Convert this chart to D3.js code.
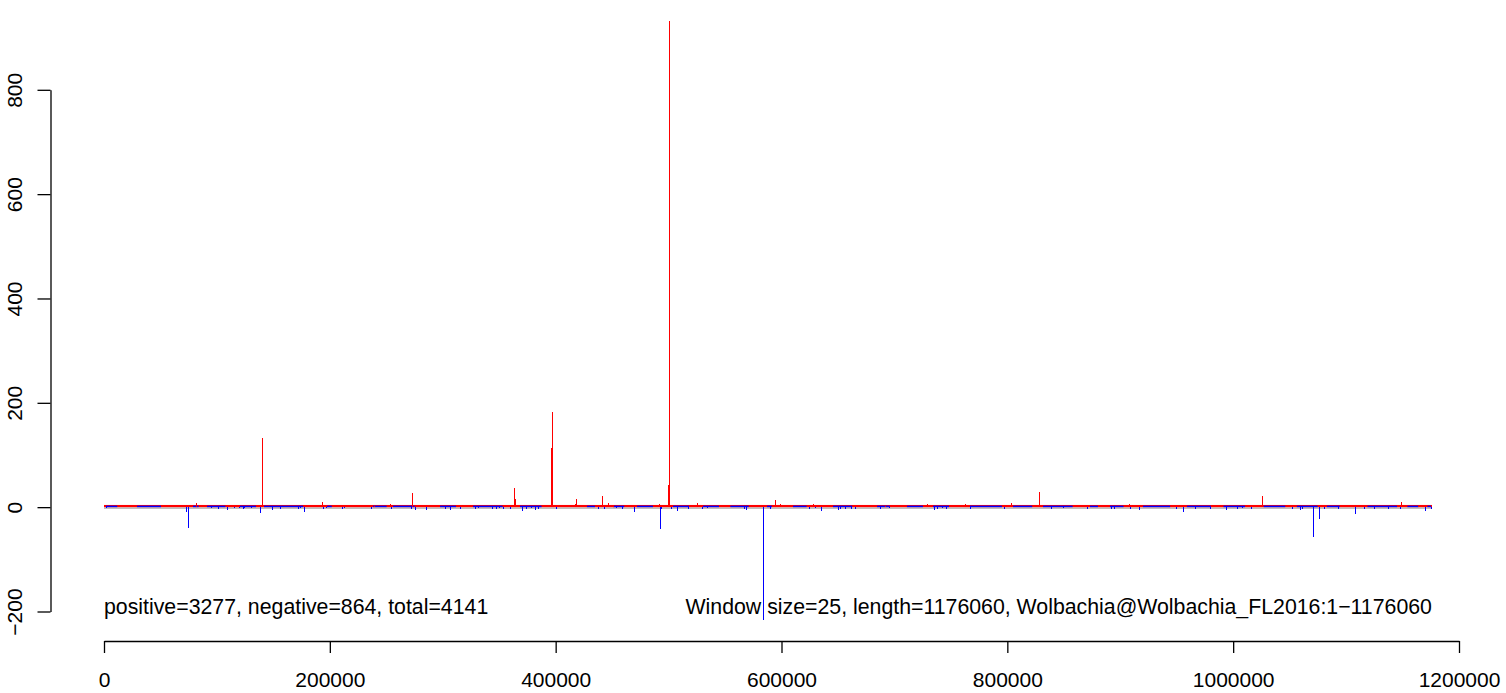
<!DOCTYPE html>
<html>
<head>
<meta charset="utf-8">
<script src="https://cdn.jsdelivr.net/npm/d3@7"></script>
<style>
  body { margin: 0; background: #fff; }
  text { font-family: "Liberation Sans", Arial, Helvetica, sans-serif; }
</style>
</head>
<body>
<svg id="plot" width="1506" height="693"></svg>
<script>
// windows with more reads on + strand (start position, count)
var posStart = [71500, 75000, 81200, 88800, 140200, 193300, 205700, 239100, 253500, 273000,
    276300, 288100, 320000, 363100, 364200, 395900, 396700, 411800, 417100, 418300,
    420000, 441300, 446600, 451000, 491800, 499500, 500400, 525400, 548200, 577700,
    594500, 598000, 598900, 602800, 628200, 668900, 677700, 691900, 704300, 707000,
    729100, 762800, 803500, 828300, 872600, 883200, 908000, 917700, 986800, 1024000,
    1025300, 1054100, 1112600, 1148900, 1163900];
var posCount = [3, 3, 8, 4, 132, 10, 4, 3, 6, 27,
    4, 3, 5, 36, 16, 113, 183, 3, 7, 16,
    3, 22, 8, 4, 6, 43, 932, 8, 3, 4,
    14, 3, 6, 3, 6, 4, 3, 3, 4, 3,
    6, 6, 8, 29, 3, 4, 6, 3, 3, 4,
    22, 3, 4, 10, 3];

// windows with more reads on - strand
var negStart = [1800, 72900, 74700, 94500, 101200, 109200, 115400, 119300, 122800, 124000,
    129900, 138400, 149000, 155600, 171500, 173800, 177400, 193700, 196900, 210500,
    212300, 236200, 253900, 271600, 275400, 285400, 302300, 306700, 315500, 328800,
    331000, 343900, 347400, 350100, 353100, 359800, 370500, 373700, 378400, 381400,
    384400, 400600, 437800, 443100, 453200, 458500, 469600, 492300, 493000, 502400,
    507700, 517500, 529300, 534300, 566800, 568600, 583900, 589800, 624600, 629900,
    635200, 650300, 652100, 656500, 661800, 665400, 687500, 695500, 735300, 738000,
    741900, 745900, 767200, 797300, 838900, 849600, 870800, 891800, 894700, 908900,
    916900, 949600, 955800, 966500, 979500, 993900, 1003700, 1008100, 1016100, 1052400,
    1059400, 1061200, 1071000, 1076300, 1080700, 1093100, 1108200, 1115900, 1125000, 1136800,
    1148000, 1170200, 1175200];
var negCount = [-2, -10, -39, -2, -3, -5, -2, -2, -3, -2,
    -2, -12, -5, -3, -3, -2, -10, -3, -2, -3,
    -2, -3, -3, -3, -5, -5, -3, -6, -3, -3,
    -2, -4, -3, -2, -3, -4, -7, -3, -2, -6,
    -4, -3, -4, -3, -2, -3, -9, -41, -3, -4,
    -8, -3, -3, -2, -3, -5, -217, -3, -4, -2,
    -8, -6, -4, -3, -4, -3, -3, -2, -6, -3,
    -2, -3, -3, -3, -3, -2, -3, -3, -3, -3,
    -6, -3, -10, -3, -3, -6, -3, -2, -3, -3,
    -6, -4, -58, -22, -3, -3, -14, -3, -3, -3,
    -3, -8, -3];

// stretches of the low-count band where the - strand windows dominate
var blueRuns = [[1800, 14200], [29200, 55800], [78800, 85000], [91200, 111600], [120400, 138200],
    [141700, 185100], [197500, 202800], [238200, 253300], [255900, 279800], [297600, 315300],
    [326800, 359600], [368400, 392300], [427700, 436600], [450800, 463200], [472000, 489700],
    [503900, 521600], [530500, 548200], [554700, 575000], [587100, 592500], [610200, 625200],
    [645600, 666900], [684600, 698700], [711100, 728800], [734200, 751900], [766900, 802300],
    [805000, 826300], [831600, 864400], [873200, 882000], [890900, 905900], [920100, 950200],
    [959000, 985500], [991400, 1015300], [1027000, 1050900], [1056400, 1079400], [1083000, 1097100],
    [1118900, 1151700], [1154300, 1166700], [1172000, 1176000]];

var genomeLength = 1176060;
var xTicks = [0, 200000, 400000, 600000, 800000, 1000000, 1200000];
var yTicks = [-200, 0, 200, 400, 600, 800];
var leftNote = "positive=3277, negative=864, total=4141";
var rightNote = "Window size=25, length=1176060, Wolbachia@Wolbachia_FL2016:1\u22121176060";

var svg = d3.select("#plot");

var x = d3.scaleLinear().domain([0, 1200000]).range([104, 1459]);
var y = d3.scaleLinear().domain([-200, 800]).range([611.5, 89.8]);

var px = function(v) { return Math.round(x(v)) + 0.5; };

// grey zero line
svg.append("line")
    .attr("x1", x(0)).attr("x2", x(genomeLength))
    .attr("y1", y(0) + 1).attr("y2", y(0) + 1)
    .attr("stroke", "#bebebe").attr("stroke-width", 1.6);

// dense band of tiny counts
svg.append("rect")
    .attr("x", x(0)).attr("width", x(genomeLength) - x(0))
    .attr("y", y(0) - 2.2).attr("height", 2.2)
    .attr("fill", "#ff0000");

svg.selectAll(".run")
    .data(blueRuns)
    .enter()
    .append("rect")
    .attr("class", "run")
    .attr("x", function(d) { return x(d[0]); })
    .attr("width", function(d) { return (x(d[1]) - x(d[0])) * 0.8; })
    .attr("y", y(0) - 1.5).attr("height", 1.5)
    .attr("fill", "#0000ff");

// histogram-like spikes
var bars = svg.append("g").attr("shape-rendering", "crispEdges");

bars.selectAll(".pos")
    .data(posStart)
    .enter()
    .append("line")
    .attr("class", "pos")
    .attr("x1", function(d) { return px(d); })
    .attr("x2", function(d) { return px(d); })
    .attr("y1", y(0))
    .attr("y2", function(d, i) { return y(posCount[i]); })
    .attr("stroke", "#ff0000")
    .attr("stroke-width", 1);

bars.selectAll(".neg")
    .data(negStart)
    .enter()
    .append("line")
    .attr("class", "neg")
    .attr("x1", function(d) { return px(d); })
    .attr("x2", function(d) { return px(d); })
    .attr("y1", y(0))
    .attr("y2", function(d, i) { return y(negCount[i]); })
    .attr("stroke", "#0000ff")
    .attr("stroke-width", 1);

// axes
var xAxis = d3.axisBottom(x)
    .tickValues(xTicks)
    .tickFormat(d3.format("d"))
    .tickSize(12)
    .tickSizeOuter(0)
    .tickPadding(19);

var gx = svg.append("g")
    .attr("transform", "translate(0,641)")
    .call(xAxis);

var yAxis = d3.axisLeft(y)
    .tickValues(yTicks)
    .tickFormat(function(d) { return d < 0 ? "\u2212" + Math.abs(d) : d; })
    .tickSize(13)
    .tickSizeOuter(0);

var gy = svg.append("g")
    .attr("transform", "translate(50.5,0)")
    .call(yAxis);

gy.selectAll(".tick text")
    .attr("x", null).attr("dy", null)
    .attr("text-anchor", "middle")
    .attr("transform", "translate(-29,0) rotate(-90)");

[gx, gy].forEach(function(g) {
    g.selectAll("path, line").attr("stroke", "#000").attr("stroke-width", 1.3);
    g.selectAll("text").attr("font-size", 21).attr("fill", "#000")
        .attr("font-family", "'Liberation Sans', Arial, sans-serif");
});

// notes inside the plot
svg.append("text")
    .attr("x", x(0)).attr("y", 613.5)
    .attr("font-size", 21.3)
    .text(leftNote);

svg.append("text")
    .attr("x", x(genomeLength)).attr("y", 613.5)
    .attr("font-size", 21.3)
    .attr("text-anchor", "end")
    .text(rightNote);
</script>
</body>
</html>
